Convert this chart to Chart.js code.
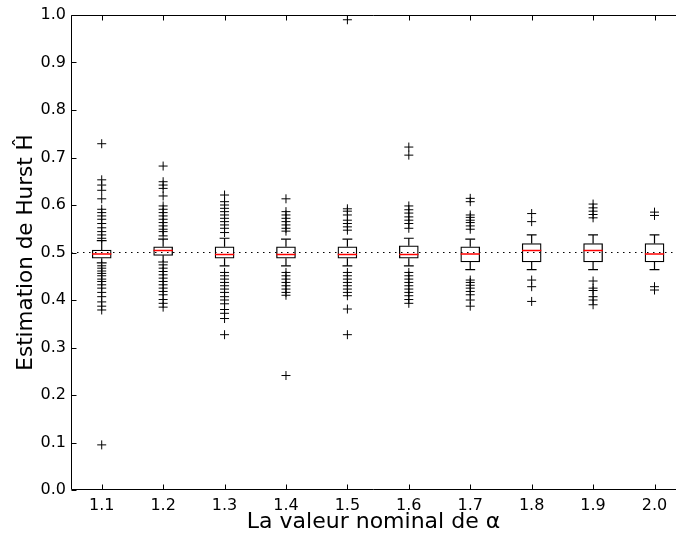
<!DOCTYPE html>
<html><head><meta charset="utf-8">
<script src="https://cdn.jsdelivr.net/npm/chart.js@4.4.0/dist/chart.umd.min.js"></script>
<style>html,body{margin:0;padding:0;background:#fff;}#wrap{width:676px;height:540px;}</style>
</head><body><div id="wrap"><canvas id="c" width="676" height="540"></canvas></div>
<script>
// ---- data ----
const categories = ['1.1','1.2','1.3','1.4','1.5','1.6','1.7','1.8','1.9','2.0'];
const q1      = [0.488,0.494,0.488,0.488,0.488,0.488,0.480,0.480,0.480,0.480];
const medians = [0.497,0.504,0.496,0.496,0.496,0.496,0.497,0.504,0.504,0.497];
const q3      = [0.505,0.512,0.512,0.512,0.512,0.514,0.512,0.519,0.519,0.519];
const whiskLo = [0.478,0.480,0.472,0.472,0.472,0.472,0.464,0.464,0.464,0.464];
const whiskHi = [0.525,0.528,0.530,0.528,0.528,0.530,0.528,0.537,0.537,0.537];
const fliers11 = [0.729,0.653,0.642,0.631,0.613,0.591,0.584,0.577,0.570,0.561,0.552,0.544,0.537,0.530,0.472,0.467,0.461,0.456,0.451,0.444,0.439,0.432,0.425,0.416,0.407,0.396,0.387,0.379,0.095];
const fliers12 = [0.682,0.649,0.642,0.635,0.619,0.598,0.591,0.584,0.577,0.570,0.563,0.556,0.549,0.544,0.535,0.474,0.467,0.460,0.453,0.446,0.439,0.432,0.425,0.418,0.411,0.401,0.393,0.385];
const fliers13 = [0.621,0.607,0.600,0.593,0.586,0.579,0.572,0.565,0.558,0.551,0.542,0.458,0.451,0.444,0.437,0.430,0.423,0.416,0.407,0.400,0.392,0.380,0.372,0.361,0.327];
const fliers14 = [0.613,0.586,0.579,0.572,0.565,0.558,0.551,0.545,0.458,0.451,0.444,0.437,0.430,0.423,0.416,0.410,0.241];
const fliers15 = [0.990,0.592,0.587,0.579,0.568,0.561,0.554,0.547,0.458,0.451,0.444,0.437,0.430,0.423,0.416,0.409,0.381,0.327];
const fliers16 = [0.722,0.705,0.598,0.590,0.583,0.575,0.568,0.561,0.551,0.458,0.451,0.444,0.437,0.430,0.423,0.416,0.409,0.401,0.393];
const fliers17 = [0.614,0.607,0.579,0.574,0.568,0.563,0.556,0.549,0.442,0.437,0.431,0.425,0.418,0.411,0.400,0.387];
const fliers18 = [0.582,0.565,0.442,0.428,0.397];
const fliers19 = [0.602,0.594,0.587,0.580,0.573,0.440,0.425,0.420,0.407,0.400,0.390];
const fliers20 = [0.585,0.578,0.428,0.421];
const fliers = [fliers11,fliers12,fliers13,fliers14,fliers15,fliers16,fliers17,fliers18,fliers19,fliers20];
const yTicks = [0.0,0.1,0.2,0.3,0.4,0.5,0.6,0.7,0.8,0.9,1.0];
const refLevel = 0.5;
// visible x range (the right end of the original axes is cropped off the picture)
const X_MIN = 0.5, X_MAX = 10.35;

// ---- build library datasets ----
const BOX_HALF = 0.157, CAP_HALF = 0.08;
const pos = categories.map((c,i)=>i+1);
const boxData = pos.map((x,i)=>({x:x, y:[q1[i],q3[i]]}));
const medData = [], whiskData = [], capData = [], flierData = [];
pos.forEach((x,i)=>{
  medData.push({x:x-BOX_HALF,y:medians[i]},{x:x+BOX_HALF,y:medians[i]},{x:x,y:null});
  whiskData.push({x:x,y:q3[i]},{x:x,y:whiskHi[i]},{x:x,y:null},{x:x,y:q1[i]},{x:x,y:whiskLo[i]},{x:x,y:null});
  capData.push({x:x-CAP_HALF,y:whiskHi[i]},{x:x+CAP_HALF,y:whiskHi[i]},{x:x,y:null},{x:x-CAP_HALF,y:whiskLo[i]},{x:x+CAP_HALF,y:whiskLo[i]},{x:x,y:null});
  fliers[i].forEach(v=>flierData.push({x:x,y:v}));
});
const refData = [{x:X_MIN,y:refLevel},{x:X_MAX,y:refLevel}];

const FONT = 'DejaVu Sans';
const segLine = (data,color,width,order)=>({type:'line',data:data,borderColor:color,borderWidth:width,pointRadius:0,spanGaps:false,fill:false,order:order,tension:0});

const framePlugin = {
  id:'frame',
  afterDraw(chart){
    const ctx = chart.ctx, a = chart.chartArea, xs = chart.scales.x, ys = chart.scales.y;
    ctx.save();
    ctx.strokeStyle = '#000'; ctx.lineWidth = 1;
    const L = Math.round(a.left)+0.5, T = Math.round(a.top)+0.5, B = Math.round(a.bottom)-0.5, R = chart.width;
    ctx.beginPath();
    ctx.moveTo(L,T); ctx.lineTo(R,T);
    ctx.moveTo(L,T); ctx.lineTo(L,B);
    ctx.moveTo(L,B); ctx.lineTo(R,B);
    const TL = 5;
    xs.ticks.forEach(t=>{
      const px = Math.round(xs.getPixelForValue(t.value))+0.5;
      ctx.moveTo(px,B); ctx.lineTo(px,B-TL);
      ctx.moveTo(px,T); ctx.lineTo(px,T+TL);
    });
    ys.ticks.forEach(t=>{
      const py = Math.round(ys.getPixelForValue(t.value))+0.5;
      ctx.moveTo(L,py); ctx.lineTo(L+TL,py);
    });
    ctx.stroke();
    ctx.restore();
  }
};

new Chart(document.getElementById('c'),{
  data:{datasets:[
    {type:'bar',data:boxData,backgroundColor:'#ffffff',borderColor:'#000',borderWidth:1.3,barThickness:19,borderSkipped:false,order:6},
    segLine(whiskData,'#000',1.2,5),
    segLine(capData,'#000',1.2,4),
    segLine(medData,'#ff0000',1.5,3),
    {type:'scatter',data:flierData,pointStyle:'cross',pointRadius:4.5,pointBorderWidth:1,borderColor:'#000',backgroundColor:'#000',showLine:false,order:2},
    Object.assign(segLine(refData,'#000',1,1),{borderDash:[1.5,4.5]})
  ]},
  options:{
    responsive:false, animation:false, devicePixelRatio:1,
    layout:{autoPadding:false,padding:{left:14,top:15,right:0,bottom:0}},
    plugins:{legend:{display:false},tooltip:{enabled:false}},
    scales:{
      x:{type:'linear',min:X_MIN,max:X_MAX,offset:false,
        grid:{display:false,drawTicks:false},border:{display:false},
        afterBuildTicks:s=>{s.ticks = pos.map(v=>({value:v}));},
        afterFit:s=>{s.height = 50; s.paddingLeft = 0; s.paddingRight = 0;},
        ticks:{autoSkip:false,maxRotation:0,color:'#000',padding:6,font:{family:FONT,size:16},
          callback:v=>categories[Math.round(v)-1]},
        title:{display:true,text:'La valeur nominal de α',color:'#000',font:{family:FONT,size:22},padding:{top:0,bottom:5}}
      },
      y:{type:'linear',min:0,max:1,
        grid:{display:false,drawTicks:false},border:{display:false},
        afterBuildTicks:s=>{s.ticks = yTicks.map(v=>({value:v}));},
        afterFit:s=>{s.width = 57;},
        ticks:{color:'#000',padding:5,font:{family:FONT,size:16},callback:v=>Number(v).toFixed(1)},
        title:{display:true,text:'Estimation de Hurst Ĥ',color:'#000',font:{family:FONT,size:21.5},padding:{top:0,bottom:0}}
      }
    }
  },
  plugins:[framePlugin]
});
</script>
</body></html>
